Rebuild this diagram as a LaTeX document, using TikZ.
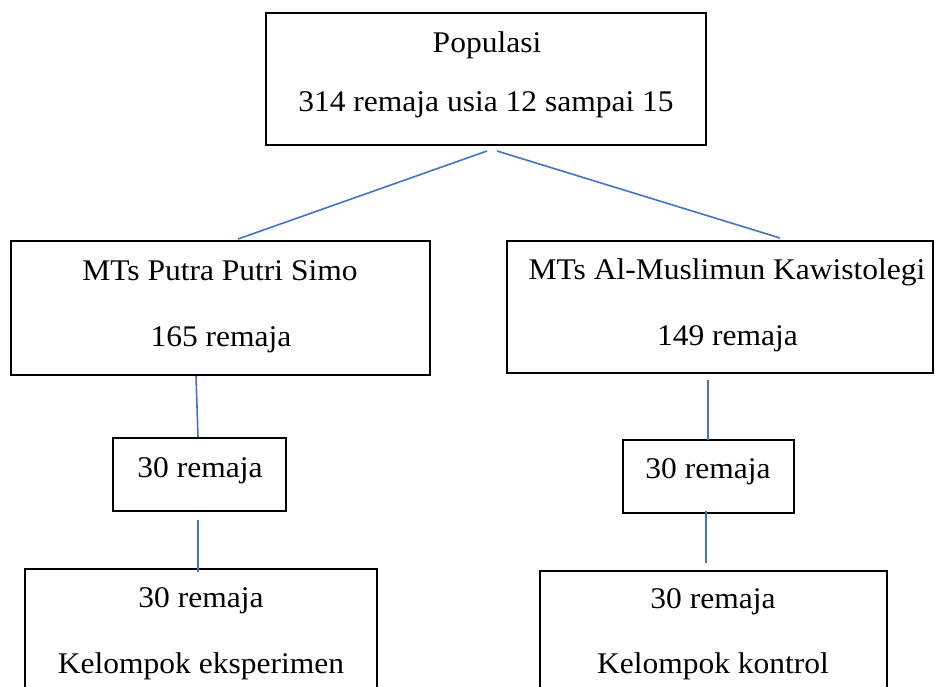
\documentclass[tikz,border=0pt]{standalone}
\usepackage{fontspec}
\setmainfont[FakeStretch=1.05]{Liberation Serif}
\definecolor{linkblue}{HTML}{4472C4}
\tikzset{
  box/.style={draw=black, line width=1.8pt, rectangle, inner sep=0pt, fill=none},
  lbl/.style={anchor=base, inner sep=0pt, font=\fontsize{30}{34}\selectfont},
  link/.style={draw=linkblue, line width=1.6pt}
}
\begin{document}
\begin{tikzpicture}[x=1pt, y=-1pt]
\useasboundingbox (0,0) rectangle (935,686);
\clip (0,0) rectangle (935,686);
% boxes
\node[box, minimum width=440pt, minimum height=132pt] (pop) at (486,79) {};
\node[box, minimum width=419pt, minimum height=134pt] (mtsL) at (220.5,308) {};
\node[box, minimum width=426pt, minimum height=132pt] (mtsR) at (720,307) {};
\node[box, minimum width=173pt, minimum height=73pt] (sL) at (199.5,474.5) {};
\node[box, minimum width=171pt, minimum height=73pt] (sR) at (708.5,476.5) {};
\node[box, minimum width=352pt, minimum height=152pt] (bL) at (201,645) {};
\node[box, minimum width=347pt, minimum height=150pt] (bR) at (713.5,646) {};
% texts
\node[lbl] (t1) at (487,52) {Populasi};
\node[lbl] (t2) at (486,111) {314 remaja usia 12 sampai 15};
\node[lbl] (t3) at (220,280) {MTs Putra Putri Simo};
\node[lbl] (t4) at (221,346) {165 remaja};
\node[lbl] (t5) at (727,279) {MTs Al-Muslimun Kawistolegi};
\node[lbl] (t6) at (727.5,345) {149 remaja};
\node[lbl] (t7) at (200,477) {30 remaja};
\node[lbl] (t8) at (708,478) {30 remaja};
\node[lbl] (t9) at (201,607) {30 remaja};
\node[lbl] (t10) at (201,673) {Kelompok eksperimen};
\node[lbl] (t11) at (713,608) {30 remaja};
\node[lbl] (t12) at (713,673) {Kelompok kontrol};
% connector end points
\coordinate (popL) at (487,151);
\coordinate (popR) at (497,151);
\coordinate (mtsLtop) at (238,239);
\coordinate (mtsRtop) at (780,238);
\coordinate (mtsLbot) at (196,376);
\coordinate (sLtop) at (198,437);
\coordinate (sLbot) at (198,520);
\coordinate (bLtop) at (198,572);
\coordinate (mtsRbot) at (708,380);
\coordinate (sRtop) at (708,440);
\coordinate (sRbot) at (706,511);
\coordinate (bRtop) at (706,563);
% connectors
\draw[link] (popL) -- (mtsLtop);
\draw[link] (popR) -- (mtsRtop);
\draw[link] (mtsLbot) -- (sLtop);
\draw[link] (sLbot) -- (bLtop);
\draw[link] (mtsRbot) -- (sRtop);
\draw[link] (sRbot) -- (bRtop);
\end{tikzpicture}
\end{document}
